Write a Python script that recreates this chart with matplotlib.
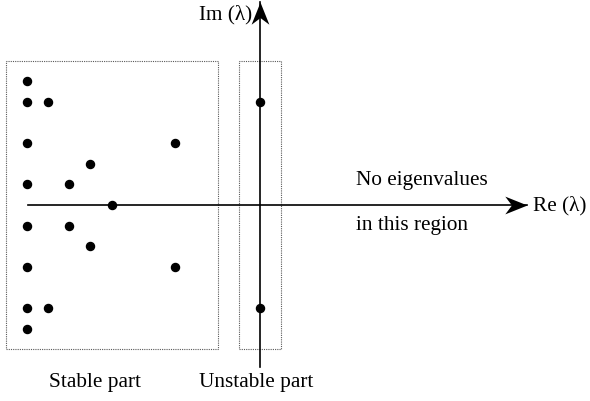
import matplotlib
matplotlib.use("Agg")
import matplotlib.pyplot as plt
from matplotlib.patches import Rectangle
from matplotlib.path import Path
from matplotlib.markers import MarkerStyle

# eigenvalues (Re, Im)
stable_re = [-11, -11, -10, -11, -4, -8, -11, -9, -7, -11, -9, -8, -11, -4, -11, -10, -11]
stable_im = [6, 5, 5, 3, 3, 2, 1, 1, 0, -1, -1, -2, -3, -3, -5, -5, -6]
unstable_re = [0, 0]
unstable_im = [5, -5]

# regions (x0, x1, y0, y1)
stable_box = (-12, -2, -7, 7)
unstable_box = (-1, 1, -7, 7)

# axis extents
re_axis = (-10.95, 12.62)
im_axis = (-7.86, 9.85)

plt.rcParams["font.family"] = "Liberation Serif"
fs = 15.3

fig = plt.figure(figsize=(5.9, 4.02), dpi=100)
ax = fig.add_axes([0, 0, 1, 1])
ax.set_xlim(-12.26, 15.57)
ax.set_ylim(-9.51, 10.0)
ax.axis("off")

# dotted region boxes
for (x0, x1, y0, y1) in [stable_box, unstable_box]:
    ax.add_patch(Rectangle((x0, y0), x1 - x0, y1 - y0, fill=False,
                           ls=(0, (1, 1)), lw=0.8, ec="0.35"))


# stealth style arrow head, tip at origin
def head(angle):
    pts = [(0, 0), (-1, 0.4), (-0.7, 0), (-1, -0.4), (0, 0)]
    if angle == 90:
        pts = [(-y, x) for x, y in pts]
    codes = [Path.MOVETO, Path.LINETO, Path.LINETO, Path.LINETO, Path.CLOSEPOLY]
    return MarkerStyle(Path(pts, codes))


ax.plot(re_axis, [0, 0], color="black", lw=1.2)
ax.plot([0, 0], im_axis, color="black", lw=1.2)
ax.plot([re_axis[1]], [0], marker=head(0), ms=32, color="black", mew=0)
ax.plot([0], [im_axis[1]], marker=head(90), ms=32, color="black", mew=0)

# eigenvalues
ax.plot(stable_re, stable_im, "o", color="black", ms=5.8, zorder=5)
ax.plot(unstable_re, unstable_im, "o", color="black", ms=5.8, zorder=5)

# labels
ax.text(-0.35, 9.3, "Im (λ)", ha="right", va="center", fontsize=fs)
ax.text(12.88, 0.02, "Re (λ)", ha="left", va="center", fontsize=fs)
ax.text(4.52, 1.25, "No eigenvalues", ha="left", va="center", fontsize=fs)
ax.text(4.52, -0.95, "in this region", ha="left", va="center", fontsize=fs)
ax.text(-7.78, -8.55, "Stable part", ha="center", va="center", fontsize=fs)
ax.text(-0.19, -8.55, "Unstable part", ha="center", va="center", fontsize=fs)

fig.savefig("out.png", dpi=100)
